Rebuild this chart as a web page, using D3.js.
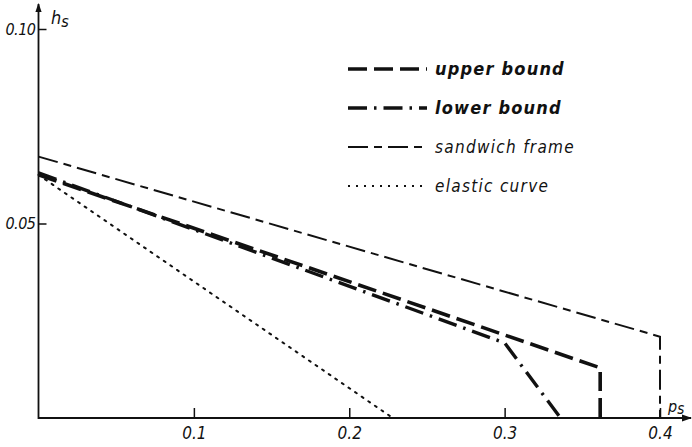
<!DOCTYPE html>
<html>
<head>
<meta charset="utf-8">
<script src="https://cdn.jsdelivr.net/npm/d3@7"></script>
<style>
  body { margin: 0; background: #fff; }
  svg { display: block; }
  text { font-family: "DejaVu Sans Condensed", "DejaVu Sans", sans-serif; font-style: italic; fill: #111; }
</style>
</head>
<body>
<div id="graph"></div>
<script>
// data (p_s, h_s)
var upper_bound = [[0, 0.0625], [0.3615, 0.0129], [0.3615, 0]];
var lower_bound = [[0, 0.063], [0.3, 0.0193], [0.336, 0]];
var sandwich_frame = [[0, 0.0672], [0.4, 0.0209], [0.4, 0]];
var elastic_curve = [[0, 0.0625], [0.228, 0]];

var x_ticks = [0.1, 0.2, 0.3, 0.4];
var y_ticks = [0.05, 0.10];
var x_tick_labels = ["0.1", "0.2", "0.3", "0.4"];
var y_tick_labels = ["0.05", "0.10"];

var legend_names = ["upper bound", "lower bound", "sandwich frame", "elastic curve"];

var width = 692, height = 447;

var x = d3.scaleLinear().domain([0, 0.4]).range([38.5, 660]),
    y = d3.scaleLinear().domain([0, 0.1]).range([418, 29]);

var styles = [
  {dash: "19,7", w: 3.6, bold: true},
  {dash: "19,7,2.5,7", w: 3.4, bold: true},
  {dash: "20,6,8,6", w: 2, bold: false},
  {dash: "2,6", w: 2, bold: false}
];
var series = [upper_bound, lower_bound, sandwich_frame, elastic_curve];

var svg = d3.select("#graph").append("svg")
    .attr("width", width)
    .attr("height", height);

// arrow heads for axes
svg.append("defs").append("marker")
    .attr("id", "arrow")
    .attr("viewBox", "0 0 10 10")
    .attr("refX", 9).attr("refY", 5)
    .attr("markerWidth", 5).attr("markerHeight", 5)
    .attr("orient", "auto")
  .append("path")
    .attr("d", "M0,1.5L10,5L0,8.5Z")
    .attr("fill", "#111");

svg.append("line")
    .attr("x1", x(0)).attr("y1", y(0))
    .attr("x2", width - 1).attr("y2", y(0))
    .attr("stroke", "#111").attr("stroke-width", 2)
    .attr("marker-end", "url(#arrow)");
svg.append("line")
    .attr("x1", x(0)).attr("y1", y(0) + 1)
    .attr("x2", x(0)).attr("y2", 4)
    .attr("stroke", "#111").attr("stroke-width", 1.8)
    .attr("marker-end", "url(#arrow)");

var xAxis = svg.append("g")
    .attr("transform", "translate(0," + y(0) + ")")
    .call(d3.axisBottom(x).tickValues(x_ticks)
      .tickFormat(function(d, i) { return x_tick_labels[i]; })
      .tickSizeInner(-10).tickSizeOuter(0).tickPadding(9));
xAxis.select(".domain").remove();
xAxis.selectAll(".tick line").attr("stroke", "#111").attr("stroke-width", 1.5);
xAxis.selectAll(".tick text").style("font-size", "17px").attr("fill", "#111");

var yAxis = svg.append("g")
    .attr("transform", "translate(" + x(0) + ",0)")
    .call(d3.axisLeft(y).tickValues(y_ticks)
      .tickFormat(function(d, i) { return y_tick_labels[i]; })
      .tickSizeInner(-8).tickSizeOuter(0).tickPadding(3));
yAxis.select(".domain").remove();
yAxis.selectAll(".tick line").attr("stroke", "#111").attr("stroke-width", 1.5);
yAxis.selectAll(".tick text").style("font-size", "16px").style("letter-spacing", "-0.5px").attr("fill", "#111");

// axis titles
var hs = svg.append("text").attr("x", 51).attr("y", 24).style("font-size", "18px");
hs.append("tspan").text("h");
hs.append("tspan").attr("dy", 3).style("font-size", "16px").text("s");
var ps = svg.append("text").attr("x", 668).attr("y", 412).style("font-size", "16px");
ps.append("tspan").text("p");
ps.append("tspan").attr("dy", 2).style("font-size", "15px").text("s");

var line = d3.line()
    .x(function(d) { return x(d[0]); })
    .y(function(d) { return y(d[1]); });

svg.selectAll(".curve")
    .data(series)
  .enter().append("path")
    .attr("class", "curve")
    .attr("d", line)
    .attr("fill", "none")
    .attr("stroke", "#111")
    .attr("stroke-width", function(d, i) { return styles[i].w; })
    .attr("stroke-dasharray", function(d, i) { return styles[i].dash; })
    .attr("stroke-linecap", function(d, i) { return i == 3 ? "round" : "butt"; });

// legend
var legend = svg.selectAll(".legend")
    .data(legend_names)
  .enter().append("g")
    .attr("class", "legend")
    .attr("transform", function(d, i) { return "translate(348," + (69 + i * 39) + ")"; });

legend.append("line")
    .attr("x1", 0).attr("x2", 79)
    .attr("stroke", "#111")
    .attr("stroke-width", function(d, i) { return styles[i].w; })
    .attr("stroke-dasharray", function(d, i) { return styles[i].dash; });

legend.append("text")
    .attr("x", 87)
    .attr("dy", "0.35em")
    .style("font-size", function(d, i) { return styles[i].bold ? "18px" : "17px"; })
    .style("font-weight", function(d, i) { return styles[i].bold ? "bold" : "normal"; })
    .style("letter-spacing", function(d, i) { return styles[i].bold ? "1.2px" : "1.3px"; })
    .text(function(d) { return d; });
</script>
</body>
</html>
